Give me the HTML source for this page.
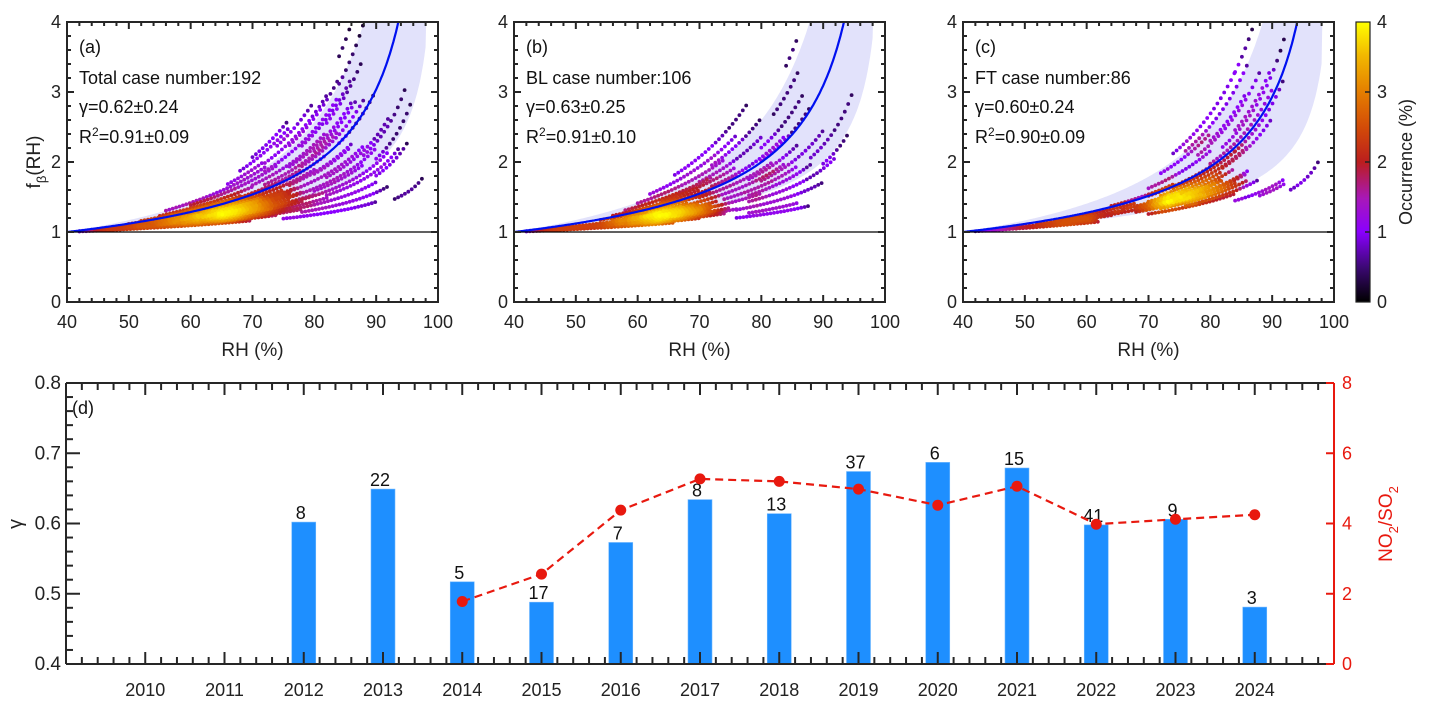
<!DOCTYPE html>
<html><head><meta charset="utf-8">
<style>
html,body{margin:0;padding:0;background:#fff;}
svg{display:block;font-family:"Liberation Sans",Arial,sans-serif;}
</style></head>
<body>
<svg id="fig" width="1429" height="705" viewBox="0 0 1429 705" xmlns="http://www.w3.org/2000/svg">
<defs>
<linearGradient id="cmap" x1="0" y1="1" x2="0" y2="0">
<stop offset="0" stop-color="#000000"/>
<stop offset="0.12" stop-color="#3a0870"/>
<stop offset="0.25" stop-color="#8a00ff"/>
<stop offset="0.37" stop-color="#a818b8"/>
<stop offset="0.5" stop-color="#bb1e1e"/>
<stop offset="0.62" stop-color="#d24a08"/>
<stop offset="0.75" stop-color="#e57e00"/>
<stop offset="0.88" stop-color="#f2b800"/>
<stop offset="1" stop-color="#ffff00"/>
</linearGradient>
<clipPath id="clipA"><rect x="67" y="22" width="371" height="280"/></clipPath>
<clipPath id="clipB"><rect x="514" y="22" width="371" height="280"/></clipPath>
<clipPath id="clipC"><rect x="963" y="22" width="371" height="280"/></clipPath>
</defs>
<g id="panels"></g>
<g id="colorbar">
<rect x="1356" y="22" width="14" height="280" fill="url(#cmap)" stroke="#222" stroke-width="1.2"/>
<g font-size="18" fill="#222">
<text x="1377" y="308">0</text><text x="1377" y="238">1</text><text x="1377" y="168">2</text><text x="1377" y="98">3</text><text x="1377" y="28">4</text>
</g>
<g stroke="#222" stroke-width="1.5">
<line x1="1365" y1="232" x2="1370" y2="232"/><line x1="1365" y1="162" x2="1370" y2="162"/><line x1="1365" y1="92" x2="1370" y2="92"/>
</g>
<text x="1412" y="162" font-size="18" fill="#222" text-anchor="middle" transform="rotate(-90 1412 162)">Occurrence (%)</text>
</g>
<g id="paneld"></g>
</svg>
<script>
// ---------- Panel (d) data ----------
const years = [2012,2013,2014,2015,2016,2017,2018,2019,2020,2021,2022,2023,2024];
const gammaVals = [0.602,0.649,0.517,0.488,0.573,0.634,0.614,0.674,0.687,0.679,0.598,0.606,0.481];
const caseCounts = ["8","22","5","17","7","8","13","37","6","15","41","9","3"];
const ratioYears = [2014,2015,2016,2017,2018,2019,2020,2021,2022,2023,2024];
const ratioVals = [1.78,2.56,4.38,5.27,5.20,4.98,4.52,5.06,3.98,4.12,4.25];
const yearTicks = [2010,2011,2012,2013,2014,2015,2016,2017,2018,2019,2020,2021,2022,2023,2024];
const gammaTicks = ["0.4","0.5","0.6","0.7","0.8"];
const ratioTicks = ["0","2","4","6","8"];

// ---------- Panels (a)-(c) data: trajectories [gamma, RHstart, RHend] ----------
const casesA = [
[0.22,42,70],[0.26,44,74],[0.30,42,62],[0.34,46,66],[0.38,42,58],[0.44,44,60],[0.50,45,62],
[0.30,58,80],[0.33,60,82],[0.36,62,78],[0.39,60,80],[0.42,62,76],[0.45,64,78],[0.48,60,76],[0.51,63,77],[0.54,62,75],
[0.40,66,74],[0.44,58,72],[0.47,66,76],[0.50,56,70],[0.57,58,72],[0.37,55,68],[0.28,64,78],[0.41,64,72],
[0.60,50,70],[0.66,52,68],[0.72,55,70],[0.80,60,74],[0.92,66,72],[1.00,68,76],[0.86,56,72],[0.64,60,78],[0.58,64,80],
[0.20,75,90],[0.25,78,92],[0.30,80,90],[0.35,82,94],[0.42,80,88],[0.48,82,92],[0.55,80,86],[0.62,84,90],
[0.70,80,87],[0.78,82,88],[0.86,84,88],[0.95,84,87],[0.46,88,95],[0.40,90,96],[0.18,93,97.5],[0.33,90,95],
[0.68,72,84],[0.74,70,82],[0.82,72,84],[0.90,72,82],[0.96,74,80],[0.56,76,86],[0.50,74,88],[0.44,76,90],[0.38,78,92],
[0.62,70,82],[0.66,78,88],[0.72,76,86],[0.80,78,86],[0.88,76,84],[1.05,70,76]
];
const casesB = [
[0.22,42,66],[0.26,44,70],[0.30,42,60],[0.34,46,64],[0.38,42,56],[0.44,44,58],
[0.28,58,74],[0.31,60,76],[0.34,62,75],[0.37,60,72],[0.40,62,74],[0.43,64,72],[0.46,60,73],[0.49,63,70],[0.52,62,72],
[0.36,66,72],[0.42,58,68],[0.45,66,72],[0.48,56,66],[0.55,58,68],[0.33,56,66],
[0.60,54,72],[0.68,56,70],[0.76,58,72],[0.85,60,74],[0.95,62,76],[1.05,66,78],[0.64,60,76],[0.72,64,76],
[0.20,76,88],[0.24,78,86],[0.30,76,90],[0.36,78,92],[0.42,78,88],[0.50,80,90],[0.56,78,86],[0.64,80,88],
[0.72,80,87],[0.82,82,86],[0.92,84,86],[0.45,88,95],[0.38,90,94],
[0.58,70,82],[0.66,72,84],[0.78,70,80],[0.88,72,80],[0.52,72,84],[0.46,74,86],[0.40,72,80]
];
const casesC = [
[0.30,42,62],[0.36,45,62],[0.42,48,64],[0.48,52,66],[0.55,55,68],
[0.40,68,84],[0.43,70,86],[0.46,68,82],[0.49,72,84],[0.52,70,82],[0.55,72,86],[0.58,74,84],[0.45,72,80],[0.38,72,86],
[0.42,74,86],[0.35,76,88],[0.47,76,82],[0.50,66,76],[0.60,70,80],[0.33,70,84],[0.62,64,74],[0.44,64,74],
[0.70,70,80],[0.80,72,80],[0.90,74,84],[0.84,76,86],[0.74,78,88],[0.66,82,92],[0.58,84,92],
[0.28,84,92],[0.22,93,97.5],[0.26,88,92],[0.90,84,88],[0.68,84,90],[0.62,80,90],[0.76,80,86],[0.54,82,90]
];

const NS="http://www.w3.org/2000/svg";
function mk(tag, attrs, parent){const e=document.createElementNS(NS,tag);for(const k in attrs)e.setAttribute(k,attrs[k]);if(parent)parent.appendChild(e);return e;}

function cmap(v){
  const stops=[[0,[0,0,0]],[0.5,[58,8,112]],[1,[138,0,255]],[1.5,[168,24,184]],[2,[187,30,30]],[2.5,[210,74,8]],[3,[229,126,0]],[3.5,[242,184,0]],[4,[255,255,0]]];
  v=Math.max(0,Math.min(4,v));
  for(let i=0;i<stops.length-1;i++){const a=stops[i],b=stops[i+1];if(v<=b[0]){const t=(v-a[0])/(b[0]-a[0]);const c=a[1].map((x,j)=>Math.round(x+(b[1][j]-x)*t));return `rgb(${c[0]},${c[1]},${c[2]})`;}}
  return 'rgb(255,255,0)';
}

const panelsG=document.getElementById('panels');
const panelDefs=[
 {x0:67,label:"(a)",title:"Total case number:192",g:"γ=0.62±0.24",r:"0.91±0.09",cases:casesA,clip:"clipA",id:"a",fit:0.62},
 {x0:514,label:"(b)",title:"BL case number:106",g:"γ=0.63±0.25",r:"0.91±0.10",cases:casesB,clip:"clipB",id:"b",fit:0.63},
 {x0:963,label:"(c)",title:"FT case number:86",g:"γ=0.60±0.24",r:"0.90±0.09",cases:casesC,clip:"clipC",id:"c",fit:0.60}
];
const Y0=302,Y1=22,W=371;
panelDefs.forEach((p,pi)=>{
  const g=mk('g',{},panelsG);
  
  
  const sx=v=>p.x0+(v-40)/60*W;
  const sy=v=>Y0-(v/4)*(Y0-Y1);
  const fr=(gm,rh)=>Math.pow((100-rh)/60,-gm);
  const inner=mk('g',{'clip-path':`url(#${p.clip})`},g);
  const lo=p.fit-0.24, hi=p.fit+0.24;
  const pts=[],up=[];
  for(let rh=40;rh<=98.2;rh+=0.2){pts.push([sx(rh),sy(Math.min(fr(lo,rh),4.5))]);}
  for(let rh=98.2;rh>=40;rh-=0.2){up.push([sx(rh),sy(Math.min(fr(hi,rh),4.5))]);}
  const d='M'+pts.map(q=>q[0].toFixed(1)+','+q[1].toFixed(1)).join('L')+'L'+up.map(q=>q[0].toFixed(1)+','+q[1].toFixed(1)).join('L')+'Z';
  const band=mk('path',{d:d,fill:'#e2e2fb',stroke:'none'},inner);
  
  
  const dots=[];
  p.cases.forEach(c=>{for(let rh=c[1];rh<=c[2];rh+=0.55){const f=fr(c[0],rh);if(f<=4.05)dots.push([rh,f,sx(rh),sy(f)]);}});
  const R2=10*10;
  let mx=0;
  dots.forEach(a=>{let n=0;dots.forEach(b=>{const dx=a[2]-b[2],dy=a[3]-b[3];if(dx*dx+dy*dy<R2)n++;});a.push(n);if(n>mx)mx=n;});
  dots.forEach(q=>q.push(4*Math.pow(q[4]/mx,0.6)));
  dots.sort((a,b)=>a[5]-b[5]);
  const dg=mk('g',{},inner);
  
  
  dots.forEach(q=>{mk('circle',{cx:q[2].toFixed(1),cy:q[3].toFixed(1),r:1.9,fill:cmap(q[5])},dg);});
  let fd='';
  for(let rh=40;rh<=97;rh+=0.2){fd+=(fd?'L':'M')+sx(rh).toFixed(1)+','+sy(Math.min(fr(p.fit,rh),4.3)).toFixed(1);}
  const fit=mk('path',{d:fd,fill:'none',stroke:'#0010f0','stroke-width':2.2},inner);
  
  
  const h1=mk('line',{x1:p.x0,x2:p.x0+W,y1:sy(1),y2:sy(1),stroke:'#000','stroke-width':1.2},g);
  
  
  mk('rect',{x:p.x0,y:Y1,width:W,height:Y0-Y1,fill:'none',stroke:'#262626','stroke-width':2},g);
  const tk=mk('g',{stroke:'#262626','stroke-width':2},g);
  for(let v=40;v<=100;v+=2){const L=(v%10===0)?7:4;const x=sx(v);mk('line',{x1:x,x2:x,y1:Y0,y2:Y0-L},tk);mk('line',{x1:x,x2:x,y1:Y1,y2:Y1+L},tk);}
  for(let i=0;i<=20;i++){const v=i*0.2;const L=(i%5===0)?7:4;const y=sy(v);mk('line',{x1:p.x0,x2:p.x0+L,y1:y,y2:y},tk);mk('line',{x1:p.x0+W,x2:p.x0+W-L,y1:y,y2:y},tk);}
  const lab=mk('g',{'font-size':18,fill:'#222'},g);
  for(let v=40;v<=100;v+=10){const t=mk('text',{x:sx(v),y:328,'text-anchor':'middle'},lab);t.textContent=v;}
  for(let v=0;v<=4;v++){const t=mk('text',{x:p.x0-6,y:sy(v)+6,'text-anchor':'end'},lab);t.textContent=v;}
  const xt=mk('text',{x:p.x0+W/2,y:356,'text-anchor':'middle','font-size':19,fill:'#222'},g);xt.textContent='RH (%)';
  
  
  const tx=p.x0+12;
  const a1=mk('text',{x:tx,y:53,'font-size':18,fill:'#111'},g);a1.textContent=p.label;
  
  
  const a2=mk('text',{x:tx,y:84,'font-size':18,fill:'#111'},g);a2.textContent=p.title;
  
  
  const a3=mk('text',{x:tx,y:113,'font-size':18,fill:'#111'},g);a3.textContent=p.g;
  
  
  const a4=mk('text',{x:tx,y:143,'font-size':18,fill:'#111'},g);
  
  
  a4.innerHTML='R<tspan dy="-7" font-size="12">2</tspan><tspan dy="7">='+p.r+'</tspan>';
  if(pi===0){
    const yl=mk('text',{x:0,y:0,'font-size':19,fill:'#222','text-anchor':'middle',transform:'translate(40 162) rotate(-90)'},g);
    
    
    yl.innerHTML='f<tspan dy="6" font-size="13">β</tspan><tspan dy="-6">(RH)</tspan>';
  }
});

// ---------- Panel (d) ----------
const D=document.getElementById('paneld');
const DX0=66,DX1=1334,DY0=664,DY1=383;
const dx=v=>DX0+(v-2009)/(2025-2009)*(DX1-DX0);
const dyL=v=>DY0-(v-0.4)/0.4*(DY0-DY1);
const dyR=v=>DY0-v/8*(DY0-DY1);
const bw=24;
years.forEach((yr,i)=>{
  const r=mk('rect',{x:dx(yr)-bw/2,y:dyL(gammaVals[i]),width:bw,height:DY0-dyL(gammaVals[i]),fill:'#1e8fff',stroke:'#6fb7ff','stroke-width':0.6},D);
  
  
  const t=mk('text',{x:dx(yr)-3,y:dyL(gammaVals[i])-3,'text-anchor':'middle','font-size':18,fill:'#111'},D);
  t.textContent=caseCounts[i];
  
  
});
let ld='';
ratioYears.forEach((yr,i)=>{ld+=(i?'L':'M')+dx(yr).toFixed(1)+','+dyR(ratioVals[i]).toFixed(1);});
const rl=mk('path',{d:ld,fill:'none',stroke:'#e8190f','stroke-width':2.2,'stroke-dasharray':'8,5'},D);


ratioYears.forEach((yr,i)=>{
  const c=mk('circle',{cx:dx(yr),cy:dyR(ratioVals[i]),r:5.5,fill:'#e8190f'},D);
  
  
});
mk('line',{x1:DX0,x2:DX1,y1:DY1,y2:DY1,stroke:'#262626','stroke-width':2},D);
mk('line',{x1:DX0,x2:DX1,y1:DY0,y2:DY0,stroke:'#262626','stroke-width':2},D);
mk('line',{x1:DX0,x2:DX0,y1:DY0,y2:DY1,stroke:'#262626','stroke-width':2},D);
mk('line',{x1:DX1,x2:DX1,y1:DY0,y2:DY1,stroke:'#e8190f','stroke-width':2},D);
const tkd=mk('g',{stroke:'#262626','stroke-width':2},D);
for(let i=1;i<80;i++){const v=2009+i*0.2;const major=(i%5===0);const L=major?12:7;const x=dx(v);
  mk('line',{x1:x,x2:x,y1:DY0,y2:DY0-L},tkd);mk('line',{x1:x,x2:x,y1:DY1,y2:DY1+L},tkd);}
for(let i=0;i<=20;i++){const v=0.4+i*0.02;const L=(i%5===0)?14:7;mk('line',{x1:DX0,x2:DX0+L,y1:dyL(v),y2:dyL(v)},tkd);}
const tkr=mk('g',{stroke:'#e8190f','stroke-width':2},D);
for(let i=0;i<=4;i++){const y=dyR(i*2);mk('line',{x1:DX1,x2:DX1-8,y1:y,y2:y},tkr);}
const ld2=mk('g',{'font-size':18,fill:'#222'},D);
yearTicks.forEach(yr=>{const t=mk('text',{x:dx(yr),y:696,'text-anchor':'middle'},ld2);t.textContent=yr;});
gammaTicks.forEach((s,i)=>{const t=mk('text',{x:61,y:dyL(0.4+i*0.1)+6,'text-anchor':'end','font-size':19},ld2);t.textContent=s;});
const lr=mk('g',{'font-size':18,fill:'#e8190f'},D);
ratioTicks.forEach((s,i)=>{const t=mk('text',{x:1342,y:dyR(i*2)+6},lr);t.textContent=s;});
const yt=mk('text',{x:0,y:0,'font-size':20,fill:'#222','text-anchor':'middle',transform:'translate(22 524) rotate(-90)'},D);
yt.textContent='γ';


const rt=mk('text',{x:0,y:0,'font-size':19,fill:'#e8190f','text-anchor':'middle',transform:'translate(1392 524) rotate(-90)'},D);
rt.innerHTML='NO<tspan dy="6" font-size="13">2</tspan><tspan dy="-6">/SO</tspan><tspan dy="6" font-size="13">2</tspan>';


const dl=mk('text',{x:72,y:414,'font-size':18,fill:'#111'},D);
dl.textContent='(d)';


</script>
</body></html>
